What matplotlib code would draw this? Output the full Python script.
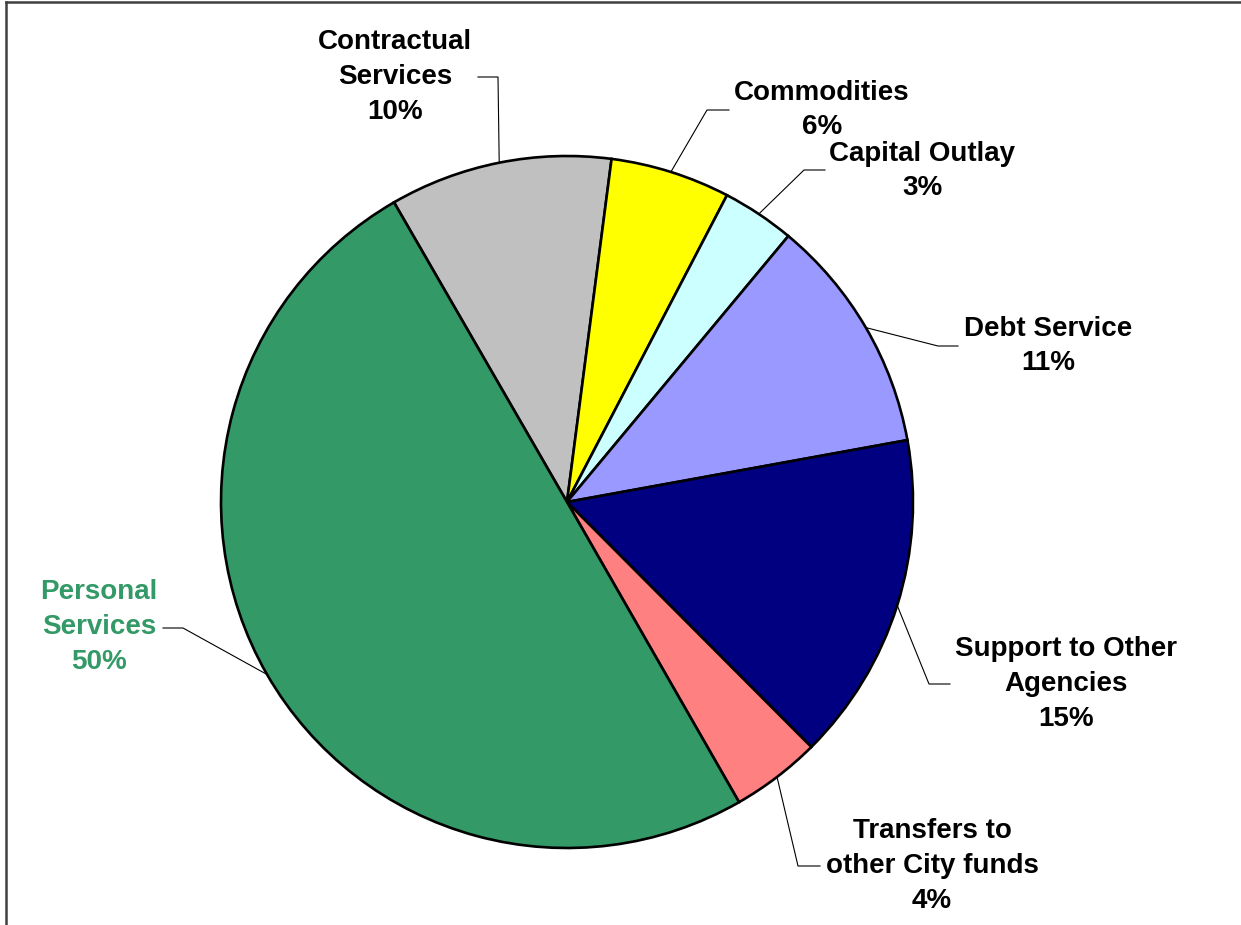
import numpy as np
import matplotlib
matplotlib.use("Agg")
import matplotlib.pyplot as plt
from matplotlib.lines import Line2D

# ---- data ----
categories = ["Contractual\nServices", "Commodities", "Capital Outlay",
              "Debt Service", "Support to Other\nAgencies",
              "Transfers to\nother City funds", "Personal\nServices"]
shares = [10.4, 5.6, 3.4, 11.1, 15.4, 4.2, 50.0]
pct_labels = ["10%", "6%", "3%", "11%", "15%", "4%", "50%"]
colors = ["#C0C0C0", "#FFFF00", "#CCFFFF", "#9999FF", "#000080", "#FF8080", "#339966"]
text_colors = ["black"] * 6 + ["#339966"]

# ---- layout (pixel space, y measured from top) ----
W, H = 1241, 925
cx, cy, R = 567, 502, 346
label_pos = [(395, 77), (822, 110), (922, 171), (1048, 346),
             (1066, 684), (932, 866), (99, 627)]
elbow = [(498, 77), (707, 110), (804, 170), (938, 346),
         (929, 684), (798, 866), (183, 628)]
tail = [(478, 77), (729, 110), (825, 170), (958, 346),
        (950, 684), (820, 866), (163, 628)]

fig = plt.figure(figsize=(W / 100, H / 100), dpi=100)
ax = fig.add_axes([0, 0, 1, 1])

def Y(y):
    return H - y

wedges, _ = ax.pie(shares, colors=colors, startangle=120, counterclock=False,
                   center=(cx, Y(cy)), radius=R,
                   wedgeprops=dict(edgecolor="black", linewidth=1.9))
ax.set_xlim(0, W)
ax.set_ylim(0, H)
ax.set_aspect("auto")
ax.axis("off")

font = dict(family=["Liberation Sans", "DejaVu Sans"], fontweight="bold", fontsize=20)

for i, w in enumerate(wedges):
    mid = np.deg2rad((w.theta1 + w.theta2) / 2)
    ax_x = cx + R * np.cos(mid)
    ax_y = Y(cy) + R * np.sin(mid)
    ex, ey = elbow[i]
    tx, ty = tail[i]
    ax.add_line(Line2D([ax_x, ex, tx], [ax_y, Y(ey), Y(ty)], color="black", linewidth=0.8))
    lx, ly = label_pos[i]
    ax.text(lx, Y(ly), f"{categories[i]}\n{pct_labels[i]}", ha="center", va="center",
            color=text_colors[i], linespacing=1.44, **font)

# partial frame (left and top)
ax.add_line(Line2D([6, 6], [0, Y(2)], color="#404040", linewidth=1.8))
ax.add_line(Line2D([6, W], [Y(2), Y(2)], color="#404040", linewidth=1.8))

fig.savefig("out.png", dpi=100)
